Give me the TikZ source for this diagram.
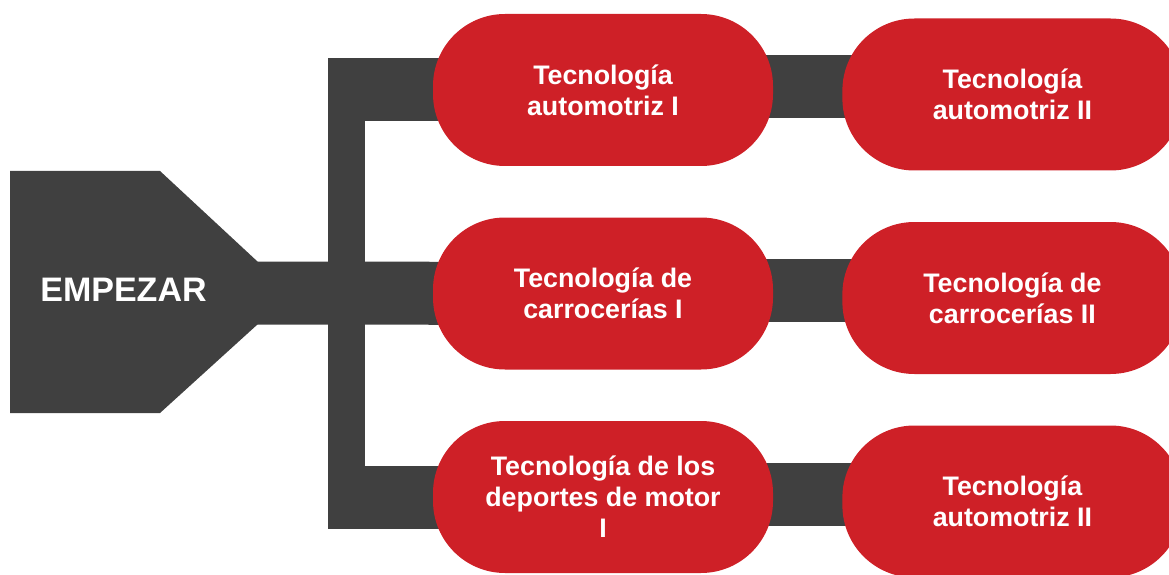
\documentclass[tikz,border=0pt]{standalone}
\usepackage{fontspec}
\setmainfont{Liberation Sans}
\usetikzlibrary{positioning, backgrounds}
\definecolor{barGrey}{RGB}{64,64,64}
\definecolor{pillRed}{RGB}{206,32,39}
\tikzset{
  pill/.style={fill=pillRed, text=white, rounded corners=72pt, minimum width=340pt, minimum height=152pt, inner sep=0pt, align=center, font=\bfseries\fontsize{26.8}{31}\selectfont},
  band/.style={draw=barGrey, line width=63pt},
  trunk/.style={draw=barGrey, line width=37pt}
}

\begin{document}
\begin{tikzpicture}[x=1pt,y=1pt]
\useasboundingbox (0,0) rectangle (1169,574);
\clip (0,0) rectangle (1169,574);
\foreach \n/\y/\t in {1/484/{Tecnología\\automotriz I}, 2/280.5/{Tecnología de\\carrocerías I}, 3/77/{Tecnología de los\\deportes de motor\\I}}
  \node[pill] (a\n) at (603,\y) {\t};
\foreach \n/\t in {1/{Tecnología\\automotriz II}, 2/{Tecnología de\\carrocerías II}, 3/{Tecnología\\automotriz II}}
  \node[pill, right=69pt of a\n, yshift=-4.5pt] (b\n) {\t};
\node[text=white, font=\bfseries\fontsize{34}{38}\selectfont] (start) at (123.5,284) {EMPEZAR};
\coordinate (tip) at (257,281);
\coordinate (tl) at (328,0);
\coordinate (ttop) at (346.5,515.5);
\coordinate (tbot) at (346.5,47);
\begin{scope}[on background layer]
\fill[barGrey] (10,403) -- (160,403) -- (258,312) -- (258,250) -- (160,161) -- (10,161) -- cycle;
\draw[band] (tip) -- (a2.center);
\draw[trunk] (ttop) -- (tbot);
\draw[band] (a1.center -| tl) -- (a1.center);
\draw[band] (a3.center -| tl) -- (a3.center);
\foreach \n in {1,2,3} {\draw[band] ([yshift=3pt]a\n.center) -- ([yshift=3pt]a\n.center -| b\n.center);}
\end{scope}
\end{tikzpicture}
\end{document}
